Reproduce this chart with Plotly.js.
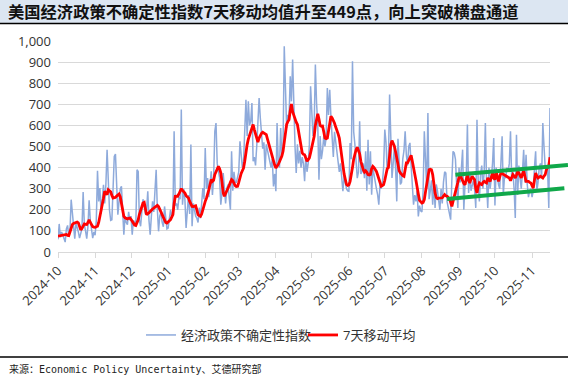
<!DOCTYPE html>
<html><head><meta charset="utf-8">
<script src="https://cdn.plot.ly/plotly-3.0.1.min.js"></script>
<style>html,body{margin:0;padding:0;background:#fff}#chart{width:568px;height:378px}</style>
</head><body><div id="chart"></div>
<script>
// ---- data ----
const startDate = '2024-10-01';
const seriesNames = ['经济政策不确定性指数', '7天移动平均'];
const titleText = '美国经济政策不确定性指数7天移动均值升至449点，向上突破横盘通道';
const sourceText = '来源：Economic Policy Uncertainty、艾德研究部';

// daily EPU index, one array per month
const epuOct24 = [60,133,70,95,80,65,47,110,126,75, 100,248,180,120,63,137,120,95,66,90, 110,284,130,100,63,120,245,150,90,66,95];
const epuNov24 = [80,150,385,240,303,180,250,319,230,320, 485,280,200,150,153,300,453,464,272,177, 240,300,311,200,82,170,140,130,190,150];
const epuDec24 = [170,82,150,140,130,390,382,150,122,190, 250,220,180,200,288,150,82,170,240,190, 300,390,200,98,170,190,140,120,216,150,110];
const epuJan25 = [114,160,200,170,190,572,220,230,200,260, 250,675,224,300,250,114,200,270,180,509, 122,230,200,170,160,140,210,160,230,303,250];
const epuFeb25 = [493,300,350,260,330,382,270,350,572,611, 420,380,350,224,280,374,280,230,300,320, 260,200,477,290,380,330,330,350];
const epuMar25 = [380,525,446,400,430,560,722,550,714,600, 620,706,430,450,410,500,600,730,635,570, 490,520,390,510,480,450,420,400,440,311,370];
const epuApr25 = [288,611,420,400,588,450,500,975,714,588, 650,640,833,714,912,620,500,374,510,420, 480,400,450,420,335,460,380,420,510,785];
const epuMay25 = [635,550,600,888,706,600,343,550,440,480, 550,500,540,777,650,769,640,560,450,570, 520,460,430,380,420,335,288,360,330,300,290];
const epuJun25 = [288,517,440,904,570,510,400,350,380,619, 370,380,420,350,477,290,532,320,477,272, 400,360,320,300,272,224,320,300,330,400];
const epuJul25 = [580,520,380,420,746,560,351,420,500,400, 240,537,400,320,330,440,480,572,460,410, 500,517,410,330,224,270,240,290,169,220,195];
const epuAug25 = [190,288,572,400,300,659,250,290,340,224, 330,209,320,290,240,200,300,230,330,380, 374,240,210,177,153,340,477,470,440,320,209];
const epuSep25 = [400,330,400,485,200,320,340,604,280,380, 290,320,340,300,209,627,330,240,370,410, 300,380,611,330,209,400,300,350,420,540];
const epuOct25 = [220,400,350,320,300,450,548,270,360,350, 400,380,420,572,350,380,300,161,556,270, 410,350,300,380,485,330,461,320,260,290,300];
const epuNov25 = [260,290,400,477,290,330,400,420,350,611, 500,400,380,390,209,683];

// 7-day moving average, one array per month
const maOct24 = [75,76,78,77,80,82,80,83,79,78, 95,118,130,135,138,140,142,138,118,105, 112,125,133,131,130,140,153,140,126,120,118];
const maNov24 = [117,120,122,140,165,190,220,255,288,280, 272,295,292,285,268,256,258,259,265,270, 275,262,230,190,169,162,158,157,160,161];
const maDec24 = [155,145,134,128,126,138,153,178,200,220, 232,235,210,177,182,185,192,200,204,208, 214,218,221,215,205,190,177,165,150,140,137];
const maJan25 = [142,150,153,165,177,230,264,265,264,275, 290,300,292,288,280,267,260,256,240,225, 216,215,218,219,200,177,172,169,180,205,224];
const maFeb25 = [240,255,272,295,320,343,335,340,367,380, 395,406,395,375,330,280,264,275,288,300, 315,330,343,338,325,315,310,311];
const maMar25 = [330,359,372,385,398,430,475,509,535,552, 564,585,604,580,556,535,521,540,556,562, 567,563,560,556,535,512,493,470,448,430,412];
const maApr25 = [398,404,415,428,438,455,477,530,580,605, 618,627,670,701,665,645,627,615,604,570, 530,500,470,463,461,445,430,438,446,470];
const maMay25 = [501,525,548,600,640,655,630,600,596,597, 570,540,537,540,575,615,643,635,625,610, 592,580,560,540,495,446,405,370,345,320,316];
const maJun25 = [318,335,360,400,440,465,485,496,480,465, 430,406,390,379,385,378,367,365,367,395, 406,400,392,382,365,343,325,312,315,319];
const maJul25 = [340,370,395,400,450,510,528,515,501,475, 446,410,385,375,367,362,359,400,422,422, 435,450,458,430,406,370,340,300,275,245,235];
const maAug25 = [232,235,248,285,319,360,390,392,390,367, 320,280,258,253,255,256,259,257,265,272, 266,264,258,253,235,216,240,260,280,300,330];
const maSep25 = [355,375,350,335,325,319,345,367,340,327, 345,359,350,343,300,280,310,327,322,319, 330,335,330,327,351,342,335,355,375,350];
const maOct25 = [343,382,360,335,355,375,372,368,367,362, 359,355,351,338,350,367,360,351,365,382, 375,360,351,370,385,360,335,335,335,330,327];
const maNov25 = [315,303,340,375,360,351,355,359,355,351, 360,367,390,400,410,449];

// channel (trend) lines drawn on the chart
const upperChannelDates = ['2025-08-29', '2025-12-01'];
const upperChannelValues = [366, 412];
const lowerChannelDates = ['2025-08-22', '2025-11-28'];
const lowerChannelValues = [251, 302];

// month ticks
const tickDates = ['2024-10-01','2024-11-01','2024-12-01','2025-01-01','2025-02-01','2025-03-01','2025-04-01','2025-05-01','2025-06-01','2025-07-01','2025-08-01','2025-09-01','2025-10-01','2025-11-01'];
const tickLabels = ['2024-10','2024-11','2024-12','2025-01','2025-02','2025-03','2025-04','2025-05','2025-06','2025-07','2025-08','2025-09','2025-10','2025-11'];

// ---- build ----
const epu = [].concat(epuOct24, epuNov24, epuDec24, epuJan25, epuFeb25, epuMar25, epuApr25, epuMay25, epuJun25, epuJul25, epuAug25, epuSep25, epuOct25, epuNov25);
const ma7 = [].concat(maOct24, maNov24, maDec24, maJan25, maFeb25, maMar25, maApr25, maMay25, maJun25, maJul25, maAug25, maSep25, maOct25, maNov25);
const t0 = Date.parse(startDate + 'T00:00:00Z');
const dates = epu.map((_, i) => new Date(t0 + i * 86400000).toISOString().slice(0, 10));

const W = 568, H = 378;
const M = {l: 58, r: 0, t: 41, b: 126};
const plotRightPx = 550;
const pw = W - M.l - M.r, ph = H - M.t - M.b;
const mainDomEnd = (plotRightPx - M.l) / pw;
const xRange = [dates[0], dates[dates.length - 1]];
const tEnd = Date.parse(xRange[1] + 'T00:00:00Z');
const x2End = new Date(t0 + (tEnd - t0) / mainDomEnd).toISOString().replace('T', ' ').replace('Z', '');
const px2py = y => (H - M.b - y) / ph;   // pixel row -> paper y
const px2px = x => (x - M.l) / pw;       // pixel col -> paper x

const cjk = 'Open Sans, Noto Sans CJK SC, sans-serif';

const traces = [
  {x: dates, y: epu, type: 'scatter', mode: 'lines', name: seriesNames[0],
   line: {color: '#8eaadb', width: 1.5}},
  {x: dates, y: ma7, type: 'scatter', mode: 'lines', name: seriesNames[1],
   line: {color: '#ff0000', width: 2.8}},
  {x: upperChannelDates, y: upperChannelValues, type: 'scatter', mode: 'lines', showlegend: false,
   xaxis: 'x2', yaxis: 'y2', line: {color: '#10a84a', width: 4}},
  {x: lowerChannelDates, y: lowerChannelValues, type: 'scatter', mode: 'lines', showlegend: false,
   xaxis: 'x2', yaxis: 'y2', line: {color: '#10a84a', width: 4}}
];

const layout = {
  width: W, height: H, margin: M,
  paper_bgcolor: '#ffffff', plot_bgcolor: 'rgba(0,0,0,0)',
  showlegend: true,
  title: {text: '<b>' + titleText + '</b>', xref: 'container', yref: 'container',
          x: 8 / W, xanchor: 'left', y: 1 - 12.5 / H, yanchor: 'middle',
          font: {family: 'Noto Sans CJK SC, sans-serif', size: 16.3, color: '#111'}},
  xaxis: {type: 'date', range: xRange, domain: [0, mainDomEnd],
          tickmode: 'array', tickvals: tickDates, ticktext: tickLabels, tickangle: -45,
          ticks: 'outside', ticklen: 5, tickcolor: '#d9d9d9', showline: true, linecolor: '#d9d9d9',
          linewidth: 1, showgrid: false, zeroline: false,
          tickfont: {family: cjk, size: 13, color: '#333'}},
  yaxis: {range: [0, 1000], dtick: 100, tickformat: ',', showgrid: true, gridcolor: '#d9d9d9',
          zeroline: false, showline: false, ticks: '', ticklabelstandoff: 6,
          tickfont: {family: cjk, size: 13, color: '#333'}},
  xaxis2: {type: 'date', range: [dates[0], x2End], domain: [0, 1], anchor: 'y2', visible: false},
  yaxis2: {range: [0, 1000], domain: [0, 1], anchor: 'x2', visible: false},
  legend: {orientation: 'h', xref: 'container', yref: 'container', x: 303 / W, xanchor: 'center',
           y: 1 - 335 / H, yanchor: 'middle', font: {family: cjk, size: 13, color: '#333'},
           entrywidth: 117, entrywidthmode: 'pixels', bgcolor: 'rgba(0,0,0,0)'},
  shapes: [
    {type: 'rect', xref: 'paper', yref: 'paper', x0: px2px(0), x1: px2px(W), y0: px2py(23), y1: px2py(0),
     fillcolor: '#dce6f2', line: {width: 0}, layer: 'below'},
    {type: 'line', xref: 'paper', yref: 'paper', x0: px2px(0), x1: px2px(W), y0: px2py(23.5), y1: px2py(23.5),
     line: {color: '#000', width: 1.5}},
    {type: 'line', xref: 'paper', yref: 'paper', x0: px2px(0), x1: px2px(W), y0: px2py(357), y1: px2py(357),
     line: {color: '#000', width: 1.5}}
  ],
  annotations: [
    {text: sourceText, xref: 'paper', yref: 'paper', x: px2px(7), xanchor: 'left', y: px2py(369), yanchor: 'middle',
     showarrow: false, font: {family: 'DejaVu Sans Mono, Noto Sans CJK SC, monospace', size: 10, color: '#222'}}
  ]
};

Plotly.newPlot('chart', traces, layout, {staticPlot: true, displayModeBar: false});
</script>
</body></html>
